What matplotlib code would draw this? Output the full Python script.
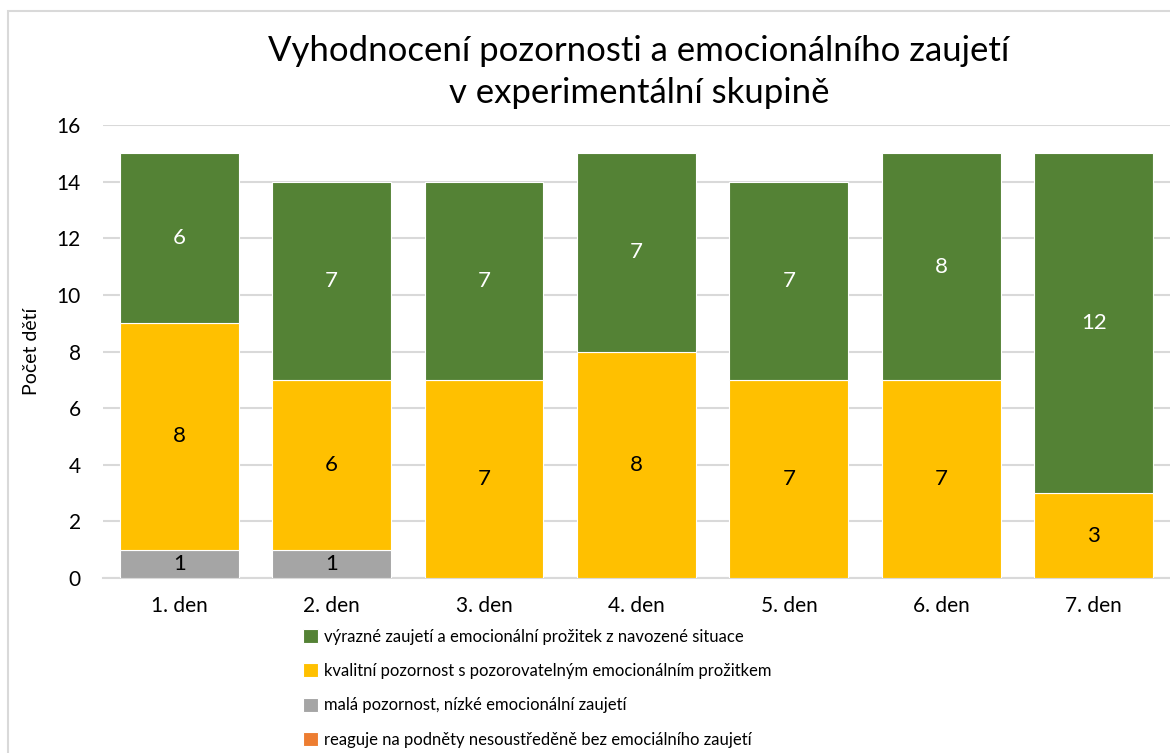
import numpy as np
import matplotlib.pyplot as plt
from matplotlib.patches import Rectangle

plt.rcParams['font.family'] = ['Lato', 'DejaVu Sans']

dny = ['1. den', '2. den', '3. den', '4. den', '5. den', '6. den', '7. den']
vyrazne = [6, 7, 7, 7, 7, 8, 12]
kvalitni = [8, 6, 7, 8, 7, 7, 3]
mala = [1, 1, 0, 0, 0, 0, 0]
reaguje = [0, 0, 0, 0, 0, 0, 0]

nazvy = ['výrazné zaujetí a emocionální prožitek z navozené situace',
         'kvalitní pozornost s pozorovatelným emocionálním prožitkem',
         'malá pozornost, nízké emocionální zaujetí',
         'reaguje na podněty nesoustředěně bez emociálního zaujetí']
barvy = ['#548235', '#FFC000', '#A5A5A5', '#ED7D31']

fig = plt.figure(figsize=(11.7, 7.53), dpi=100)
ax = fig.add_axes([0.088, 0.2324, 0.912, 0.6016])

x = np.arange(len(dny))
w = 0.78
serie = [reaguje, mala, kvalitni, vyrazne]
barvy_st = [barvy[3], barvy[2], barvy[1], barvy[0]]
nazvy_st = [nazvy[3], nazvy[2], nazvy[1], nazvy[0]]
txt_barvy = ['black', 'black', 'black', 'white']
bottom = np.zeros(len(dny))
handles = {}
for vals, c, n, tc in zip(serie, barvy_st, nazvy_st, txt_barvy):
    vals = np.array(vals, dtype=float)
    b = ax.bar(x, vals, w, bottom=bottom, color=c, edgecolor='white',
               linewidth=0.8, label=n, zorder=3)
    handles[n] = b
    for xi, v, bt in zip(x, vals, bottom):
        if v > 0:
            ax.text(xi, bt + v / 2, f'{int(v)}', ha='center', va='center',
                    fontsize=16, color=tc, zorder=4)
    bottom += vals

ax.set_xlim(-0.5, len(dny) - 0.5)
ax.set_ylim(0, 16)
ax.set_yticks(range(0, 17, 2))
ax.set_xticks(x)
ax.set_xticklabels(dny)
ax.tick_params(axis='both', length=0, labelsize=15)
ax.tick_params(axis='x', pad=13)
ax.tick_params(axis='y', pad=16)
ax.grid(axis='y', color='#d9d9d9', linewidth=1.5, zorder=0)
ax.set_axisbelow(True)
for s in ['top', 'right', 'left']:
    ax.spines[s].set_visible(False)
ax.spines['bottom'].set_color('#d9d9d9')
ax.spines['bottom'].set_linewidth(1.5)
ax.set_ylabel('Počet dětí', fontsize=14, labelpad=12)

fig.text(0.546, 0.904,
         'Vyhodnocení pozornosti a emocionálního zaujetí\nv experimentální skupině',
         fontsize=25, ha='center', va='center', linespacing=1.4)

fig.legend([handles[n] for n in nazvy], nazvy, loc='upper left',
           bbox_to_anchor=(0.259, 0.165), bbox_transform=fig.transFigure,
           frameon=False, fontsize=12, handlelength=0.9, handleheight=0.9,
           handletextpad=0.35, labelspacing=1.1, borderaxespad=0, borderpad=0)

fig.add_artist(Rectangle((0.007, -0.01), 1.0, 0.995, transform=fig.transFigure,
                         fill=False, edgecolor='#d9d9d9', linewidth=1.5))

fig.savefig('out.png', dpi=100)
